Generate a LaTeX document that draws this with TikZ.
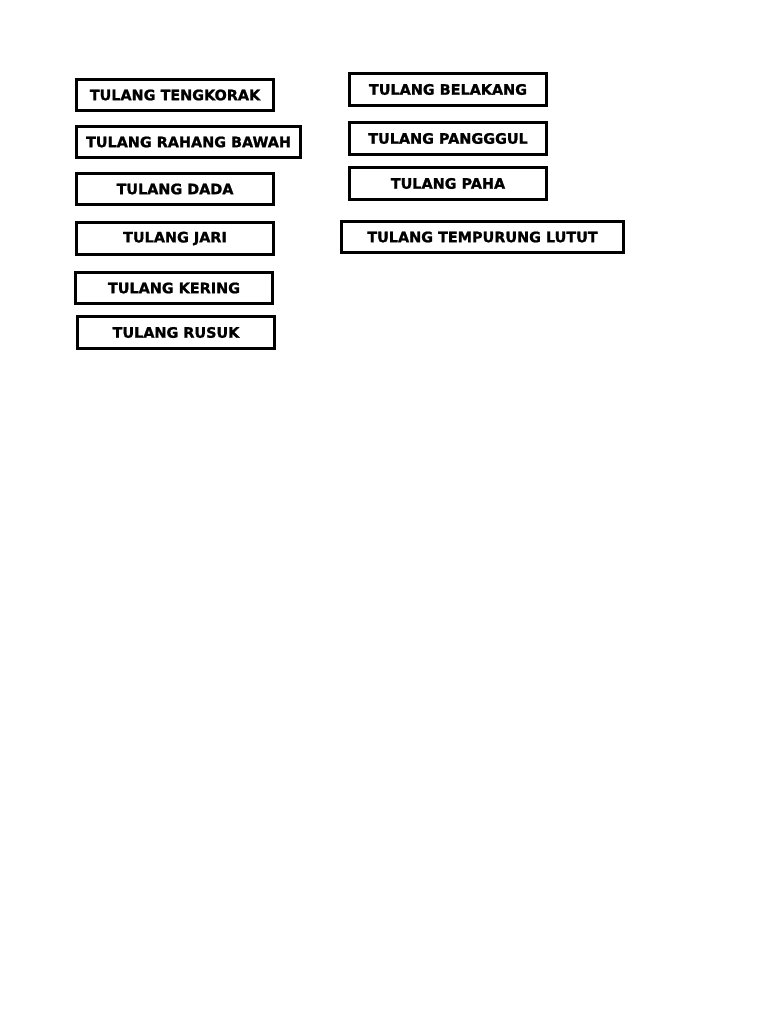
\documentclass[tikz,border=0pt]{standalone}
\usepackage{fontspec}
\setmainfont{DejaVu Sans}[BoldFeatures={FakeBold=1.2}]
\begin{document}
\begin{tikzpicture}[x=1pt,y=-1pt,
  lbl/.style={draw=black,line width=3.2pt,fill=white,inner sep=0pt,
    font=\bfseries\fontsize{14.4}{16}\selectfont,text=black}]
\useasboundingbox[fill=white] (0,0) rectangle (768,1024);
\newcommand{\bx}[6]{%
  \pgfmathsetmacro{\cx}{(#2+#3)/2}\pgfmathsetmacro{\cy}{(#4+#5)/2}%
  \pgfmathsetmacro{\ww}{#3-#2-3.2}\pgfmathsetmacro{\hh}{#5-#4-3.2}%
  \node[lbl,minimum width=\ww pt,minimum height=\hh pt] (#1) at (\cx,\cy) {#6};}
\bx{a}{75}{275}{78}{112}{TULANG TENGKORAK}
\bx{b}{75}{302}{125}{159}{TULANG RAHANG BAWAH}
\bx{c}{75}{275}{172}{206}{TULANG DADA}
\bx{d}{75}{275}{221}{256}{TULANG JARI}
\bx{e}{74}{274}{271}{305}{TULANG KERING}
\bx{f}{76}{276}{315}{350}{TULANG RUSUK}
\bx{g}{348}{548}{72}{107}{TULANG BELAKANG}
\bx{h}{348}{548}{121}{156}{TULANG PANGGGUL}
\bx{i}{348}{548}{166}{201}{TULANG PAHA}
\bx{j}{340}{625}{220}{254}{TULANG TEMPURUNG LUTUT}
\end{tikzpicture}
\end{document}
